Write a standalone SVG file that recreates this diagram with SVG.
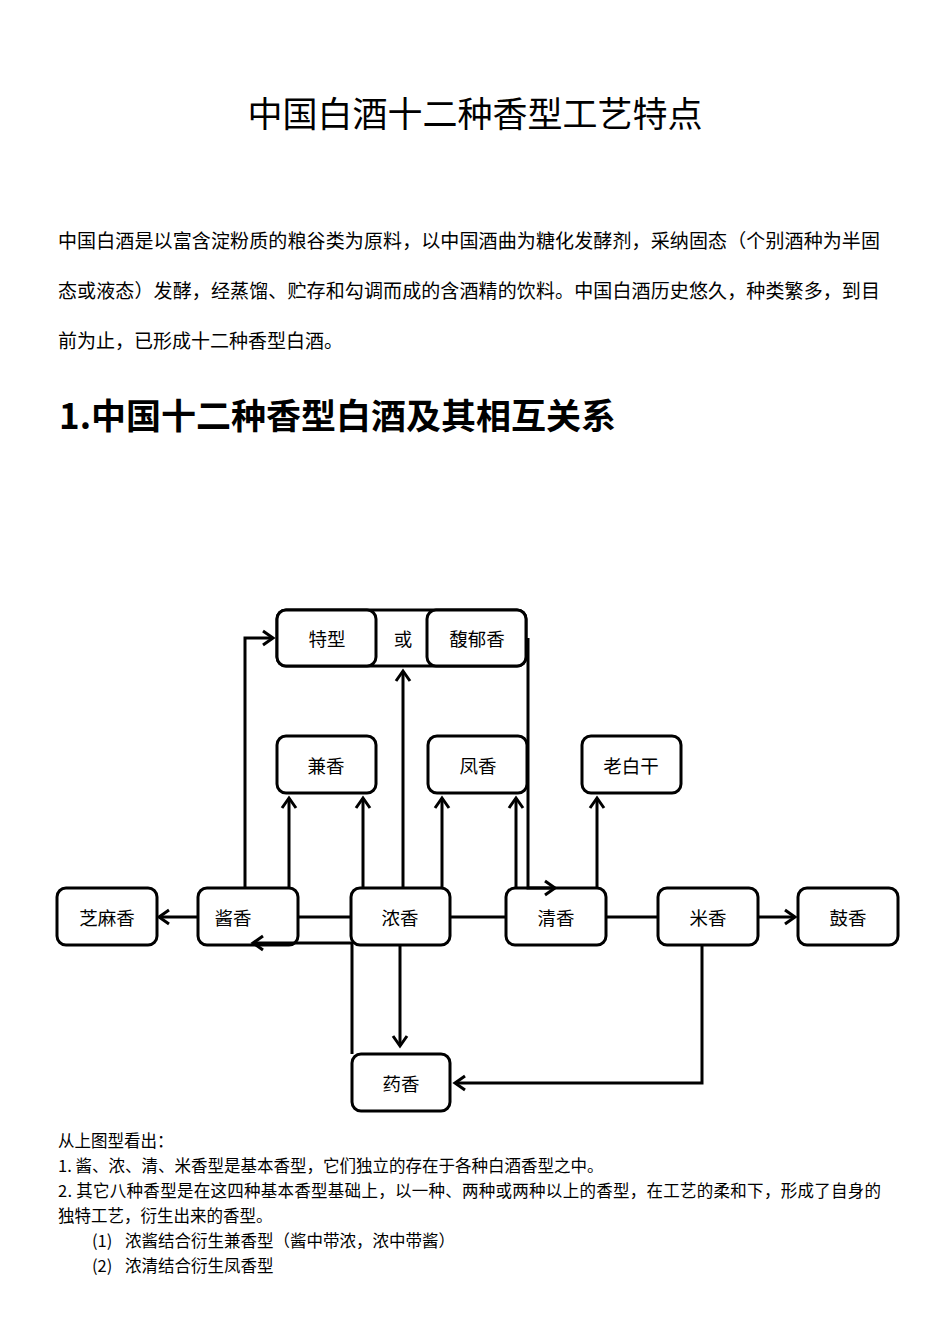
<svg xmlns="http://www.w3.org/2000/svg" width="950" height="1344" viewBox="0 0 950 1344">
<style>
text{font-family:"Noto Sans CJK SC","Noto Sans",sans-serif;fill:#000}
.title{font-size:35px}
.para{font-size:19px}
.h1{font-size:35px;font-weight:bold}
.note{font-size:16.5px}
.lbl{font-size:18.5px;text-anchor:middle;dominant-baseline:central}
.box{fill:#fff;stroke:#000;stroke-width:3}
.con path{fill:none;stroke:#000;stroke-width:3}
.arr path{marker-end:url(#ah)}
</style>
<defs>
<marker id="ah" markerUnits="userSpaceOnUse" markerWidth="24" markerHeight="24" viewBox="-14 -12 18 24" refX="0" refY="0" orient="auto" overflow="visible">
<path d="M-10,-7 L0,0 L-10,7" fill="none" stroke="#000" stroke-width="3"/>
</marker>
</defs>
<rect width="950" height="1344" fill="#fff"/>
<text class="title" x="475" y="127" text-anchor="middle">中国白酒十二种香型工艺特点</text>
<text class="para" x="58" y="248" textLength="822" lengthAdjust="spacing">中国白酒是以富含淀粉质的粮谷类为原料，以中国酒曲为糖化发酵剂，采纳固态（个别酒种为半固</text>
<text class="para" x="58" y="298" textLength="822" lengthAdjust="spacing">态或液态）发酵，经蒸馏、贮存和勾调而成的含酒精的饮料。中国白酒历史悠久，种类繁多，到目</text>
<text class="para" x="58" y="348">前为止，已形成十二种香型白酒。</text>
<text class="h1" x="59" y="429">1.中国十二种香型白酒及其相互关系</text>

<g id="node-top">
<rect class="box" x="277" y="610" width="249" height="56" rx="9"/>
<text class="lbl" x="403" y="638">或</text>
</g>
<g id="node-texing">
<rect class="box" x="277" y="610" width="99" height="56" rx="9"/>
<text class="lbl" x="327" y="638">特型</text>
</g>
<g id="node-fuyu">
<rect class="box" x="427" y="610" width="99" height="56" rx="9"/>
<text class="lbl" x="477" y="638">馥郁香</text>
</g>
<g id="node-jian">
<rect class="box" x="277" y="736" width="99" height="57" rx="9"/>
<text class="lbl" x="326" y="765">兼香</text>
</g>
<g id="node-feng">
<rect class="box" x="428" y="736" width="99" height="57" rx="9"/>
<text class="lbl" x="478" y="765">凤香</text>
</g>
<g id="node-laobaigan">
<rect class="box" x="582" y="736" width="99" height="57" rx="9"/>
<text class="lbl" x="631" y="765">老白干</text>
</g>
<g id="node-zhima">
<rect class="box" x="57" y="888" width="100" height="57" rx="9"/>
<text class="lbl" x="107" y="917">芝麻香</text>
</g>
<g id="node-jiang">
<rect class="box" x="198" y="888" width="100" height="57" rx="9"/>
<text class="lbl" x="233" y="917">酱香</text>
</g>
<g id="node-nong">
<rect class="box" x="351" y="888" width="99" height="57" rx="9"/>
<text class="lbl" x="400" y="917">浓香</text>
</g>
<g id="node-qing">
<rect class="box" x="506" y="888" width="100" height="57" rx="9"/>
<text class="lbl" x="556" y="917">清香</text>
</g>
<g id="node-mi">
<rect class="box" x="658" y="888" width="100" height="57" rx="9"/>
<text class="lbl" x="708" y="917">米香</text>
</g>
<g id="node-gu">
<rect class="box" x="798" y="888" width="100" height="57" rx="9"/>
<text class="lbl" x="848" y="917">鼓香</text>
</g>
<g id="node-yao">
<rect class="box" x="352" y="1054" width="98" height="57" rx="9"/>
<text class="lbl" x="401" y="1083">药香</text>
</g>

<g id="connectors" class="con">
<path d="M298,917 H351"/>
<path d="M450,917 H506"/>
<path d="M606,917 H658"/>
<g class="arr">
<path d="M198,917 H159"/>
<path d="M758,917 H795"/>
<path d="M702,945 V1083 H455"/>
<path d="M400,945 V1046"/>
<path d="M352,1054 V943 H253"/>
<path d="M245,888 V638 H273"/>
<path d="M403,888 V671"/>
<path d="M528,638 V888 H555"/>
<path d="M289,888 V798"/>
<path d="M363,888 V798"/>
<path d="M442,888 V798"/>
<path d="M516,888 V798"/>
<path d="M597,888 V798"/>
</g>
</g>

<text class="note" x="58" y="1147">从上图型看出：</text>
<text class="note" x="58" y="1172">1. 酱、浓、清、米香型是基本香型，它们独立的存在于各种白酒香型之中。</text>
<text class="note" x="58" y="1197" textLength="823" lengthAdjust="spacing">2. 其它八种香型是在这四种基本香型基础上，以一种、两种或两种以上的香型，在工艺的柔和下，形成了自身的</text>
<text class="note" x="58" y="1222">独特工艺，衍生出来的香型。</text>
<text class="note" x="92" y="1247">(1)</text>
<text class="note" x="125" y="1247">浓酱结合衍生兼香型（酱中带浓，浓中带酱）</text>
<text class="note" x="92" y="1272">(2)</text>
<text class="note" x="125" y="1272">浓清结合衍生凤香型</text>
</svg>
